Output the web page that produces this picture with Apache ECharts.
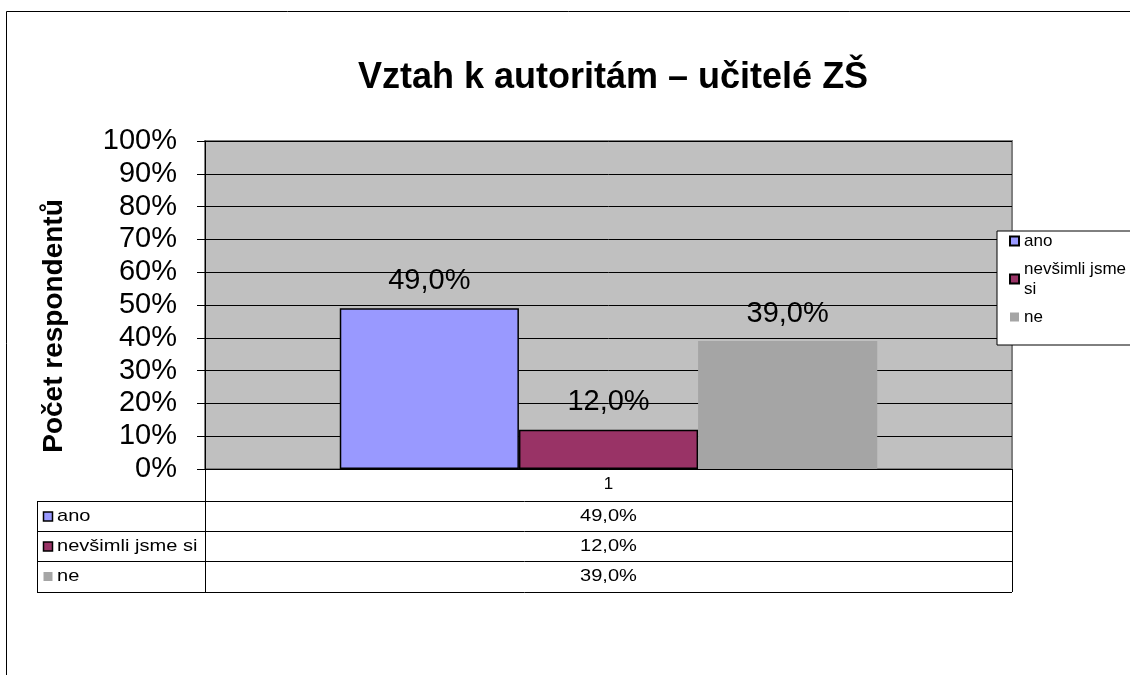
<!DOCTYPE html>
<html>
<head>
<meta charset="utf-8">
<script src="https://cdn.jsdelivr.net/npm/echarts@6/dist/echarts.min.js"></script>
<style>
  html, body { margin: 0; padding: 0; background: #ffffff; }
  #chart { width: 1130px; height: 675px; }
</style>
</head>
<body>
<div id="chart"></div>
<script>
// ---- data ----
const titleText = 'Vztah k autoritám – učitelé ZŠ';
const yAxisName = 'Počet respondentů';
const categories = ['1'];
const seriesNames = ['ano', 'nevšimli jsme si', 'ne'];
const anoValues = [49.0];
const nevsimliValues = [12.0];
const neValues = [39.0];
const yMin = 0, yMax = 100, yInterval = 10;

// ---- styles ----
const FONT = '"Liberation Sans", Arial, sans-serif';
const colors = ['#9999FF', '#993366', '#A5A5A5'];
const borders = [1.5, 1.5, 0];
const allValues = [anoValues, nevsimliValues, neValues];

const gridL = 205, gridT = 141, gridR = 1012, gridB = 469;
const fmtPct = v => v.toFixed(1).replace('.', ',') + '%';

const chart = echarts.init(document.getElementById('chart'), null, { renderer: 'canvas' });

const series = seriesNames.map((name, i) => ({
  name: name,
  type: 'bar',
  data: allValues[i],
  barGap: '0%',
  barCategoryGap: '33.4%',
  itemStyle: {
    color: colors[i],
    borderColor: '#000000',
    borderWidth: borders[i]
  },
  label: {
    show: true,
    position: 'top',
    distance: 13,
    formatter: p => fmtPct(p.value),
    fontFamily: FONT,
    fontSize: 29,
    color: '#000000'
  }
}));

// data table (text built from the arrays)
const rowTops = [501, 531, 561];
const rowH = 30;
const tableGraphics = [];
const lineStyle = { stroke: '#000000', lineWidth: 1 };
[501, 531, 561, 592].forEach(y => {
  tableGraphics.push({ type: 'line', silent: true, shape: { x1: 37, y1: y + 0.5, x2: gridR, y2: y + 0.5 }, style: lineStyle });
});
tableGraphics.push({ type: 'line', silent: true, shape: { x1: 37.5, y1: 501, x2: 37.5, y2: 592 }, style: lineStyle });
tableGraphics.push({ type: 'line', silent: true, shape: { x1: gridL + 0.5, y1: gridB, x2: gridL + 0.5, y2: 592 }, style: lineStyle });
tableGraphics.push({ type: 'line', silent: true, shape: { x1: gridR + 0.5, y1: gridB, x2: gridR + 0.5, y2: 592 }, style: lineStyle });
const tScale = 1.18;
seriesNames.forEach((name, i) => {
  const cy = rowTops[i] + rowH / 2 + 0.5;
  tableGraphics.push({
    type: 'rect', silent: true,
    shape: { x: 43.5, y: cy - 4.5, width: 9, height: 9 },
    style: { fill: colors[i], stroke: borders[i] ? '#000000' : null, lineWidth: borders[i] ? 1.5 : 0 }
  });
  tableGraphics.push({
    type: 'text', silent: true,
    x: 57, y: cy, scaleX: tScale,
    style: { x: 0, y: 0, text: name, fontFamily: FONT, fontSize: 17, fill: '#000000', verticalAlign: 'middle' }
  });
  tableGraphics.push({
    type: 'text', silent: true,
    x: (gridL + gridR) / 2, y: cy, scaleX: tScale,
    style: { x: 0, y: 0, text: fmtPct(allValues[i][0]), fontFamily: FONT, fontSize: 17, fill: '#000000', align: 'center', verticalAlign: 'middle' }
  });
});

const option = {
  backgroundColor: '#ffffff',
  animation: false,
  color: colors,
  title: {
    text: titleText,
    left: 353,
    top: 55,
    textStyle: { fontFamily: FONT, fontSize: 36, fontWeight: 'bold', color: '#000000' }
  },
  legend: {
    orient: 'vertical',
    left: 997,
    top: 231,
    backgroundColor: '#ffffff',
    borderColor: '#000000',
    borderWidth: 1,
    padding: [0, 40, 18, 12],
    itemGap: 8,
    itemWidth: 9,
    itemHeight: 9,
    icon: 'rect',
    data: seriesNames,
    formatter: name => name === 'nevšimli jsme si' ? 'nevšimli jsme\nsi' : name,
    textStyle: { fontFamily: FONT, fontSize: 17, lineHeight: 20, color: '#000000' }
  },
  grid: {
    left: gridL,
    top: gridT,
    right: 1130 - gridR,
    bottom: 675 - gridB,
    show: true,
    backgroundColor: '#C0C0C0',
    borderColor: '#808080',
    borderWidth: 2
  },
  xAxis: {
    type: 'category',
    data: categories,
    axisLine: { show: true, lineStyle: { color: '#000000', width: 1 } },
    axisTick: { show: false },
    axisLabel: { margin: 7, fontFamily: FONT, fontSize: 17, color: '#000000' },
    splitLine: { show: false }
  },
  yAxis: {
    type: 'value',
    min: yMin,
    max: yMax,
    interval: yInterval,
    name: yAxisName,
    nameLocation: 'middle',
    nameRotate: 90,
    nameGap: 137,
    nameTextStyle: { fontFamily: FONT, fontSize: 28, fontWeight: 'bold', color: '#000000', padding: [0, 42, 0, 0] },
    axisLine: { show: true, lineStyle: { color: '#000000', width: 1 } },
    axisTick: { show: true, inside: false, length: 8, lineStyle: { color: '#000000' } },
    axisLabel: { margin: 28, fontFamily: FONT, fontSize: 29, color: '#000000', formatter: '{value}%' },
    splitLine: { show: true, lineStyle: { color: '#000000', width: 1 } }
  },
  series: series,
  graphic: [
    {
      type: 'rect', silent: true, z: -1,
      shape: { x: 6.5, y: 11.5, width: 1400, height: 900 },
      style: { fill: 'none', stroke: '#000000', lineWidth: 1 }
    }
  ].concat(tableGraphics)
};

chart.setOption(option);
</script>
</body>
</html>
